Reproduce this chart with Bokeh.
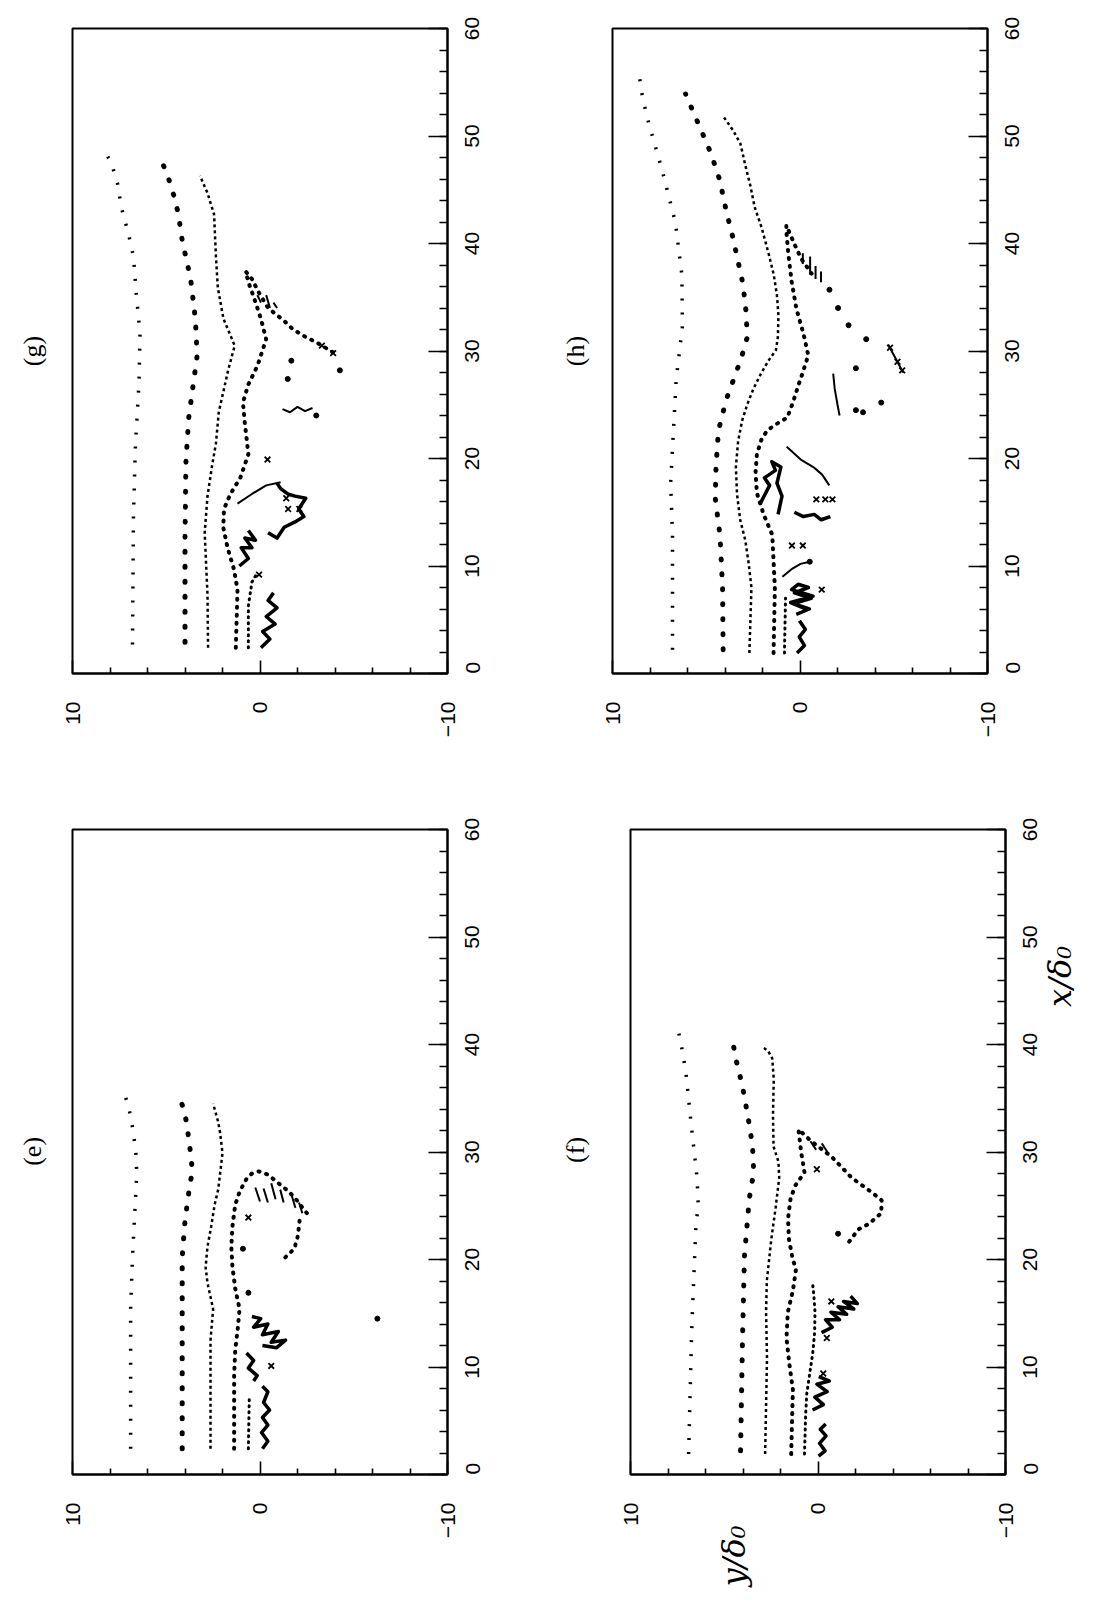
import math
from bokeh.plotting import figure
from bokeh.models import Range1d, FixedTicker, SingleIntervalTicker, LinearAxis
from bokeh.layouts import column, row
from bokeh.embed import file_html
from bokeh.resources import INLINE

# ---------------- data: x = x/delta0 (streamwise), y = y/delta0 ----------------
X_TICKS = [0, 10, 20, 30, 40, 50, 60]
Y_TICKS = [-10, 0, 10]
Y_MINOR = [-8, -6, -4, -2, 2, 4, 6, 8]
X_LABEL_POS = 43.5    # x/delta0 position of the "x/δ0" caption
Y_LABEL_POS = 4.5     # y/delta0 position of the "y/δ0" caption
TITLE_POS = 31.4      # x/delta0 position of the panel letters

# panel (g)
g_a_x = [2.7, 14.6, 20.9, 27.2, 31.6, 35.4, 38.8, 40.8, 43.4, 45.6, 47.6, 48.3]
g_a_y = [6.8, 6.75, 6.65, 6.45, 6.4, 6.6, 6.75, 7.0, 7.4, 7.6, 7.95, 8.2]
g_b_x = [2.9, 12.6, 19.7, 23.8, 29.6, 33.0, 36.7, 40.3, 42.7, 44.2, 45.9, 47.5]
g_b_y = [4.0, 4.0, 3.95, 3.8, 3.35, 3.45, 3.7, 4.15, 4.35, 4.55, 4.85, 5.2]
g_c_x = [2.4, 7.3, 13.1, 16.5, 19.4, 21.4, 24.3, 28.2, 30.5, 33.0, 35.9, 38.8, 42.7, 44.7, 46.3]
g_c_y = [2.77, 2.8, 2.95, 2.8, 2.55, 2.35, 2.2, 1.7, 1.35, 1.95, 2.25, 2.35, 2.45, 2.8, 3.2]
g_d_x = [2.4, 7.8, 9.7, 11.7, 13.6, 15.3, 16.7, 18.2, 20.4, 23.3, 25.2, 26.9, 28.6, 31.1, 33.0,
         35.0, 36.4, 37.4, 36.7, 35.4, 34.0, 32.8, 32.0, 31.3, 30.8, 30.2, 29.6]
g_d_y = [1.29, 1.2, 1.39, 1.73, 1.96, 1.92, 1.58, 1.05, 0.62, 0.81, 0.91, 0.62, 0.14, -0.33, -0.05,
         0.33, 0.62, 0.76, 0.43, 0.05, -0.43, -1.29, -1.77, -2.44, -3.01, -3.59, -4.16]
g_e_x = [2.4, 6.3, 8.5, 9.2]
g_e_y = [0.62, 0.62, 0.43, 0.2]
g_clump_x = [[2.4, 3.2, 3.9, 4.6, 5.3, 6.1, 6.8, 7.5],
             [10.0, 10.7, 11.7, 11.7, 12.6, 12.4, 13.3],
             [13.1, 12.6, 13.6, 14.1, 14.6, 15.3, 16.3, 16.5, 16.7, 17.2, 17.7]]
g_clump_y = [[-0.05, -0.53, -0.14, -0.81, -0.33, -0.91, -0.43, -0.72],
             [1.1, 0.62, 1.0, 0.43, 0.81, 0.24, 0.62],
             [-0.43, -0.91, -1.29, -1.87, -2.34, -2.06, -2.44, -1.87, -1.48, -1.1, -0.91]]
g_trace_x = [[15.8, 16.7, 17.5, 17.8], [24.6, 24.3, 24.8, 24.4, 24.7],
             [35.2, 34.5], [35.2, 34.0], [34.5, 34.0]]
g_trace_y = [[1.2, 0.43, -0.33, -1.1], [-1.2, -1.6, -2.0, -2.4, -2.8],
             [0.14, -0.05], [-0.33, -0.53], [-0.72, -0.91]]
g_cross_x = [9.2, 15.3, 15.3, 16.3, 19.9, 30.5, 29.8]
g_cross_y = [0.05, -1.5, -2.1, -1.4, -0.4, -3.3, -3.9]
g_dot_x = [24.0, 28.2, 27.4, 29.1]
g_dot_y = [-3.0, -4.26, -1.48, -1.67]

# panel (h)
h_a_x = [2.2, 12.9, 17.7, 22.6, 27.4, 32.3, 37.1, 42.0, 46.8, 51.7, 54.1, 56.0]
h_a_y = [6.8, 6.8, 6.9, 6.75, 6.6, 6.27, 6.3, 6.65, 7.35, 8.15, 8.45, 8.6]
h_b_x = [2.2, 8.0, 12.9, 16.3, 19.2, 22.6, 25.5, 27.4, 29.4, 31.3, 33.7, 36.2, 40.5, 43.0, 45.9,
         48.3, 50.2, 51.7, 53.9]
h_b_y = [4.1, 4.13, 4.27, 4.52, 4.48, 4.35, 3.93, 3.53, 3.12, 2.81, 2.88, 3.04, 3.57, 3.93, 4.28,
         4.73, 5.19, 5.56, 6.1]
h_c_x = [1.9, 8.0, 10.4, 12.4, 14.3, 16.7, 19.2, 21.6, 23.5, 25.0, 26.5, 27.9, 29.1, 30.1, 31.3,
         33.3, 35.2, 37.1, 39.1, 41.5, 43.4, 45.4, 47.3, 49.3, 50.5, 51.9]
h_c_y = [2.7, 2.59, 2.75, 2.92, 3.19, 3.36, 3.42, 3.3, 3.09, 2.82, 2.48, 2.08, 1.68, 1.28, 1.18,
         1.15, 1.23, 1.4, 1.68, 2.05, 2.42, 2.65, 2.92, 3.18, 3.56, 4.12]
h_d_x = [1.9, 8.0, 12.9, 14.8, 16.8, 18.7, 20.4, 21.8, 22.6, 23.1, 23.8, 25.2, 26.9, 27.9, 29.6,
         31.5, 34.0, 36.5, 39.0, 41.0, 41.7, 40.0, 38.6, 37.2]
h_d_y = [1.41, 1.34, 1.48, 1.94, 2.3, 2.37, 2.3, 2.05, 1.75, 1.36, 0.68, 0.38, 0.07, -0.13, -0.44,
         -0.2, 0.2, 0.45, 0.62, 0.72, 0.73, 0.31, -0.06, -0.62]
h_e_x = [1.9, 7.0]
h_e_y = [0.83, 0.77]
h_clump_x = [[15.8, 17.5, 18.2, 18.9, 19.7, 19.2, 17.7, 16.5, 14.8],
             [15.0, 14.6, 14.8, 14.3, 14.6],
             [5.5, 6.0, 6.5, 7.0, 7.5, 8.0, 8.3, 7.8, 7.2, 6.6, 6.0],
             [1.9, 2.6, 3.4, 4.1, 4.9]]
h_clump_y = [[2.12, 1.62, 1.9, 1.31, 1.5, 1.02, 1.23, 0.96, 1.17],
             [0.3, -0.18, -0.76, -1.13, -1.62],
             [0.2, -0.5, 0.35, -0.6, 0.3, -0.45, 0.1, 0.45, -0.7, 0.5, -0.3],
             [0.16, -0.24, 0.04, -0.29, 0.03]]
h_trace_x = [[21.1, 19.9, 19.2, 18.5, 17.5], [9.0, 9.7, 10.2, 10.4], [30.6, 29.3, 28.0],
             [27.9, 26.5, 25.0, 24.0], [39.1, 38.1], [38.8, 37.1], [37.9, 36.7], [37.4, 36.4]]
h_trace_y = [[0.71, -0.04, -0.71, -1.18, -1.56], [0.94, 0.45, -0.03, -0.52], [-4.7, -5.1, -5.5],
             [-1.77, -1.85, -2.0, -2.11], [-0.15, -0.15], [-0.54, -0.54], [-0.83, -0.83], [-1.12, -1.12]]
h_cross_x = [16.2, 16.2, 16.2, 11.9, 11.9, 7.8, 30.3, 29.0, 28.2]
h_cross_y = [-0.87, -1.35, -1.73, 0.43, -0.15, -1.16, -4.8, -5.2, -5.45]
h_dot_x = [35.7, 34.0, 32.4, 31.1, 28.4, 24.5, 24.3, 25.2, 10.4]
h_dot_y = [-1.57, -2.03, -2.59, -3.53, -2.98, -2.98, -3.36, -4.33, -0.52]

# panel (e)
e_a_x = [2.4, 15.4, 20.2, 25.0, 28.0, 29.9, 31.8, 33.3, 34.5, 35.7]
e_a_y = [6.9, 6.9, 6.8, 6.66, 6.57, 6.62, 6.75, 6.9, 7.05, 7.3]
e_b_x = [2.4, 15.4, 20.2, 23.6, 27.0, 28.2, 30.4, 32.8, 34.2, 35.3]
e_b_y = [4.15, 4.15, 4.15, 4.0, 3.74, 3.6, 3.74, 3.92, 4.11, 4.35]
e_c_x = [2.4, 12.5, 15.4, 17.8, 19.3, 21.2, 23.1, 25.1, 26.5, 28.4, 29.9, 31.8, 32.8, 34.5]
e_c_y = [2.64, 2.64, 2.5, 2.8, 2.9, 2.8, 2.6, 2.42, 2.23, 2.1, 2.0, 2.13, 2.23, 2.5]
e_d_x = [2.4, 9.2, 11.6, 13.5, 15.4, 17.3, 19.3, 21.2, 23.1, 25.1, 26.3, 27.5, 28.0, 28.2, 27.9,
         27.1, 26.3, 25.4, 24.5, 24.0]
e_d_y = [1.38, 1.38, 1.32, 1.19, 1.09, 1.32, 1.47, 1.53, 1.47, 1.32, 1.09, 0.72, 0.43, 0.06, -0.42,
         -0.98, -1.55, -2.02, -2.4, -2.68]
e_arc_x = [23.6, 22.2, 21.0, 19.9]
e_arc_y = [-2.11, -2.02, -1.83, -1.17]
e_e_x = [2.4, 7.2]
e_e_y = [0.62, 0.57]
e_clump_x = [[14.7, 14.5, 13.7, 14.0, 13.0, 13.3, 12.3, 12.5, 11.8, 12.0],
             [11.3, 10.6, 9.9, 9.2, 8.7],
             [2.4, 3.1, 3.9, 4.6, 5.3, 6.0, 6.7, 7.7, 8.2]]
e_clump_y = [[0.43, -0.04, 0.34, -0.42, -0.13, -0.98, -0.6, -1.36, -0.89, -0.13],
             [0.72, 0.34, 0.62, 0.15, 0.34],
             [-0.13, -0.42, -0.08, -0.42, -0.13, -0.51, -0.19, -0.42, -0.13]]
e_trace_x = [[26.7, 25.4], [26.6, 25.3], [27.1, 25.6], [26.5, 25.3], [25.9, 24.8], [25.3, 24.3]]
e_trace_y = [[0.25, 0.0], [-0.19, -0.42], [-0.6, -0.83], [-1.08, -1.26], [-1.7, -1.89], [-2.08, -2.26]]
e_cross_x = [10.1, 23.9]
e_cross_y = [-0.6, 0.62]
e_dot_x = [16.9, 21.0, 14.5]
e_dot_y = [0.62, 0.91, -6.26]

# panel (f)
f_a_x = [1.9, 13.2, 22.8, 25.2, 27.6, 30.0, 32.5, 34.9, 37.3, 39.2, 41.1, 41.6]
f_a_y = [6.9, 6.74, 6.52, 6.39, 6.45, 6.6, 6.76, 6.9, 7.04, 7.21, 7.43, 7.6]
f_b_x = [2.2, 13.2, 20.4, 25.7, 28.1, 30.5, 32.5, 34.4, 36.3, 38.2, 40.6]
f_b_y = [4.13, 4.02, 3.92, 3.66, 3.43, 3.49, 3.66, 3.85, 4.05, 4.32, 4.59]
f_c_x = [1.9, 10.8, 15.1, 18.0, 21.9, 24.8, 27.6, 29.1, 30.5, 33.4, 36.8, 38.7, 39.4, 39.7]
f_c_y = [2.82, 2.72, 2.77, 2.73, 2.49, 2.26, 2.07, 2.11, 2.37, 2.4, 2.36, 2.44, 2.66, 2.9]
f_d_x = [1.9, 7.9, 10.3, 12.7, 15.1, 17.1, 19.0, 20.4, 21.9, 23.8, 25.7, 26.9, 28.1, 30.0, 32.1,
         31.0, 29.6, 27.6, 26.2, 25.5, 24.3, 23.3, 22.8, 21.4]
f_d_y = [1.43, 1.34, 1.53, 1.68, 1.61, 1.34, 1.18, 1.39, 1.55, 1.6, 1.46, 1.2, 0.72, 0.9, 1.04,
         0.36, -0.7, -1.8, -2.9, -3.4, -3.37, -2.7, -2.15, -1.55]
f_e_x = [1.9, 5.5, 7.5, 11.3, 13.2, 15.1, 16.6, 18.0]
f_e_y = [0.72, 0.66, 0.6, 0.28, 0.18, 0.16, 0.22, 0.3]
f_clump_x = [[1.7, 2.2, 2.9, 3.6, 4.2, 4.7],
             [6.0, 6.5, 7.2, 7.7, 8.4, 8.7, 9.1],
             [13.2, 13.7, 14.4, 14.4, 15.1, 14.9, 15.6, 15.4, 16.1, 15.9, 16.6]]
f_clump_y = [[-0.03, -0.38, -0.08, -0.43, -0.12, -0.41],
             [0.29, -0.29, 0.17, -0.49, 0.06, -0.6, -0.04],
             [-0.19, -0.76, -0.4, -1.15, -0.69, -1.53, -1.07, -1.91, -1.36, -2.1, -1.74]]
f_trace_x = [[31.0, 30.2], [30.8, 30.0]]
f_trace_y = [[0.4, 0.1], [-0.2, -0.5]]
f_cross_x = [9.4, 12.7, 16.1, 28.4]
f_cross_y = [-0.28, -0.47, -0.71, 0.06]
f_dot_x = [22.4]
f_dot_y = [-1.07]

# ---------------- styles ----------------
STREAK_STYLES = {
    "a": dict(line_width=3.5, line_dash="2 12", line_cap="butt"),
    "b": dict(line_width=5, line_dash="1 14", line_cap="round"),
    "c": dict(line_width=2.5, line_dash="3 3", line_cap="butt"),
    "d": dict(line_width=4, line_dash="1 7", line_cap="round"),
    "e": dict(line_width=3, line_dash="1 5", line_cap="round"),
}
TICK_FONT = "Liberation Sans"
TICK_SIZE = 21
FW, FH = 375, 645
PX_PER_X = FH / 60.0


def text_axis(ticks, texts, font, size, style, standoff):
    """An axis with no line or ticks that only carries rotated texts."""
    ax = LinearAxis(ticker=FixedTicker(ticks=ticks, minor_ticks=[]),
                    major_label_overrides=dict(zip(ticks, texts)))
    ax.axis_line_color = None
    ax.major_tick_line_color = None
    ax.minor_tick_line_color = None
    ax.major_tick_in = 0
    ax.major_tick_out = 0
    ax.minor_tick_in = 0
    ax.minor_tick_out = 0
    ax.major_label_orientation = math.pi / 2
    ax.major_label_standoff = standoff
    ax.major_label_text_font = font
    ax.major_label_text_font_size = size
    ax.major_label_text_font_style = style
    ax.major_label_text_color = "black"
    return ax


def make_panel(label, bl, br, bt, bb, title_standoff):
    p = figure(frame_width=FW, frame_height=FH,
               x_range=Range1d(10, -10), y_range=Range1d(0, 60),
               x_axis_location="below", y_axis_location="right",
               min_border_left=bl, min_border_right=br,
               min_border_top=bt, min_border_bottom=bb,
               output_backend="svg", toolbar_location=None)
    p.grid.visible = False
    p.background_fill_color = "white"
    p.border_fill_color = "white"
    p.outline_line_color = "black"
    p.outline_line_width = 2

    xa = p.xaxis[0]
    xa.ticker = FixedTicker(ticks=Y_TICKS, minor_ticks=Y_MINOR)
    xa.major_tick_in = 13
    xa.major_tick_out = 0
    xa.minor_tick_in = 6
    xa.minor_tick_out = 0
    xa.major_label_orientation = math.pi / 2
    xa.major_label_standoff = 28
    xa.major_label_text_font = TICK_FONT
    xa.major_label_text_font_size = f"{TICK_SIZE}px"
    xa.major_label_text_color = "black"

    # right axis: tick marks only (its numbers are drawn centred by the axis below)
    ya = p.yaxis[0]
    ya.ticker = SingleIntervalTicker(interval=10, num_minor_ticks=5)
    ya.major_tick_in = 19
    ya.major_tick_out = 0
    ya.minor_tick_in = 8
    ya.minor_tick_out = 0
    ya.major_label_standoff = 0
    ya.major_label_text_font_size = "1px"
    ya.major_label_text_color = None

    for ax in (xa, ya):
        ax.axis_line_color = "black"
        ax.axis_line_width = 2
        ax.major_tick_line_width = 1.6
        ax.minor_tick_line_width = 1.6
        ax.major_tick_line_color = "black"
        ax.minor_tick_line_color = "black"

    # numbers of the x/delta0 axis, rotated text centred on each tick
    half = [len(str(v)) * 0.556 * TICK_SIZE / 2 / PX_PER_X for v in X_TICKS]
    pos = [max(v - h, 0.0) for v, h in zip(X_TICKS, half)]
    p.add_layout(text_axis(pos, [str(v) for v in X_TICKS], TICK_FONT,
                           f"{TICK_SIZE}px", "normal", 25), "right")

    # panel letter, to the left of the frame, read bottom-to-top
    p.add_layout(text_axis([TITLE_POS], [label], "Liberation Serif", "26px", "normal",
                           title_standoff), "left")
    return p


def draw(p, streaks, clump_x, clump_y, trace_x, trace_y, cross_x, cross_y, dot_x, dot_y):
    for key, (xs, ys) in streaks:
        # horizontal screen axis = y/delta0, vertical screen axis = x/delta0
        p.line(x=ys, y=xs, line_color="black", **STREAK_STYLES[key])
    p.multi_line(xs=clump_y, ys=clump_x, line_color="black", line_width=3.5,
                 line_join="round")
    p.multi_line(xs=trace_y, ys=trace_x, line_color="black", line_width=2)
    p.scatter(x=cross_y, y=cross_x, marker="x", size=8, line_color="black", line_width=1.8)
    p.scatter(x=dot_y, y=dot_x, marker="circle", size=5, fill_color="black", line_color="black")


pg = make_panel("(g)", 72, 96, 28, 136, 40)
draw(pg, [("a", (g_a_x, g_a_y)), ("b", (g_b_x, g_b_y)), ("c", (g_c_x, g_c_y)),
          ("d", (g_d_x, g_d_y)), ("e", (g_e_x, g_e_y))],
     g_clump_x, g_clump_y, g_trace_x, g_trace_y, g_cross_x, g_cross_y, g_dot_x, g_dot_y)

ph = make_panel("(h)", 69, 104, 28, 136, 37)
draw(ph, [("a", (h_a_x, h_a_y)), ("b", (h_b_x, h_b_y)), ("c", (h_c_x, h_c_y)),
          ("d", (h_d_x, h_d_y)), ("e", (h_e_x, h_e_y))],
     h_clump_x, h_clump_y, h_trace_x, h_trace_y, h_cross_x, h_cross_y, h_dot_x, h_dot_y)

pe = make_panel("(e)", 72, 96, 20, 124, 40)
draw(pe, [("a", (e_a_x, e_a_y)), ("b", (e_b_x, e_b_y)), ("c", (e_c_x, e_c_y)),
          ("d", (e_d_x, e_d_y)), ("d", (e_arc_x, e_arc_y)), ("e", (e_e_x, e_e_y))],
     e_clump_x, e_clump_y, e_trace_x, e_trace_y, e_cross_x, e_cross_y, e_dot_x, e_dot_y)

pf = make_panel("(f)", 87, 100, 20, 124, 55)
draw(pf, [("a", (f_a_x, f_a_y)), ("b", (f_b_x, f_b_y)), ("c", (f_c_x, f_c_y)),
          ("d", (f_d_x, f_d_y)), ("e", (f_e_x, f_e_y))],
     f_clump_x, f_clump_y, f_trace_x, f_trace_y, f_cross_x, f_cross_y, f_dot_x, f_dot_y)

# axis captions of the whole figure, carried by panel (f)
pf.add_layout(text_axis([Y_LABEL_POS], ["y/δ₀"], "DejaVu Serif", "32px", "italic", -16), "below")
pf.add_layout(text_axis([X_LABEL_POS], ["x/δ₀"], "DejaVu Serif", "32px", "italic", 12), "right")

layout = column(row(pg, ph), row(pe, pf))
open("out.html", "w").write(file_html(layout, INLINE))
